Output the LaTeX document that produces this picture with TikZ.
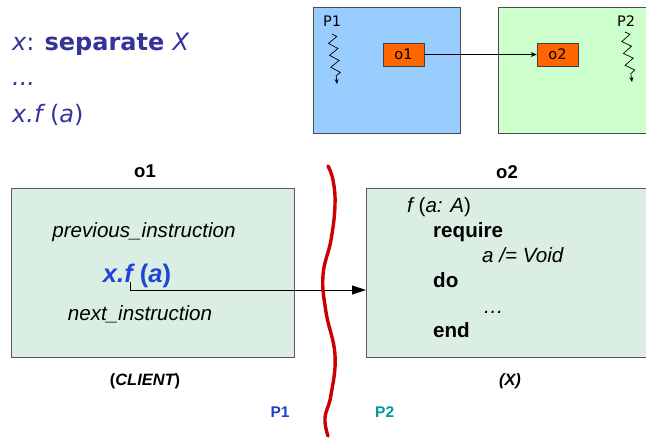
\documentclass[tikz,border=0pt]{standalone}
\usepackage{fontspec}
\setmainfont{Liberation Sans}
\newfontfamily\verd{DejaVu Sans}
\usetikzlibrary{arrows.meta,decorations.pathmorphing}

\definecolor{procblue}{HTML}{99CCFF}
\definecolor{procgreen}{HTML}{CCFFCC}
\definecolor{objorange}{HTML}{FF6600}
\definecolor{objfill}{HTML}{DAEEE4}
\definecolor{codeblue}{HTML}{333399}
\definecolor{callblue}{HTML}{1F44D8}
\definecolor{pone}{HTML}{1F3FCC}
\definecolor{ptwo}{HTML}{009999}
\definecolor{wallred}{HTML}{CC0000}

\tikzset{
  procbox/.style={draw=black!70, line width=0.8pt},
  objbox/.style={draw=black!75, fill=objorange, line width=0.6pt,
    minimum width=41pt, minimum height=23pt, inner sep=0pt,
    font=\verd\fontsize{14.5}{17}\selectfont},
  plabel/.style={inner sep=0pt, anchor=base west, font=\verd\fontsize{14.5}{17}\selectfont},
  thread/.style={decorate, decoration={zigzag, amplitude=4.5pt, segment length=12pt, post length=4pt},
    line width=0.7pt, -{Stealth[length=5pt,width=4pt]}},
  bigbox/.style={draw=black!65, fill=objfill, line width=0.8pt},
  codetxt/.style={inner sep=0pt, anchor=base west, font=\fontsize{20.6}{24}\selectfont},
  titletxt/.style={inner sep=0pt, anchor=base, font=\bfseries\fontsize{18.5}{22}\selectfont},
  toptxt/.style={inner sep=0pt, anchor=base west, text=codeblue, font=\verd\fontsize{24}{28}\selectfont}
}

\begin{document}
\begin{tikzpicture}[x=1pt, y=-1pt]
  \useasboundingbox (0,0) rectangle (646,437);

  % declaration and call, top left
  \node[toptxt] (decl) at (12,50) {\itshape x\upshape: \bfseries separate \mdseries\itshape X};
  \node[toptxt] (dots) at (12,85) {\itshape ...};
  \node[toptxt] (call) at (12,122) {\itshape x.f \upshape(\itshape a\upshape)};

  % processors P1 and P2
  \draw[procbox, fill=procblue] (313,7) rectangle (460,133);
  \draw[procbox, fill=procgreen] (498,7) rectangle (648,133);
  \node[plabel] (pa) at (323,26) {P1};
  \node[plabel] (pb) at (617,26) {P2};
  \coordinate (ta0) at (332,34);
  \coordinate (ta1) at (337,84);
  \coordinate (tb0) at (625,32);
  \coordinate (tb1) at (632,82);
  \draw[thread] (ta0) -- (ta1);
  \draw[thread] (tb0) -- (tb1);

  \node[objbox] (oa) at (403.5,54.5) {o1};
  \node[objbox] (ob) at (557.5,54.5) {o2};
  \draw[line width=0.7pt, -{Stealth[length=6pt,width=5pt]}] (oa) -- (ob);

  % client object o1
  \node[titletxt] (ta) at (145,177) {o1};
  \node[bigbox, minimum width=283pt, minimum height=169pt, anchor=north west, inner sep=0pt] (boxa) at (11,188) {};
  \node[codetxt, anchor=base] (prev) at (144,237) {\itshape previous\_instruction};
  \node[inner sep=0pt, anchor=base, text=callblue, font=\bfseries\itshape\fontsize{25.5}{30}\selectfont] (xf) at (137,282) {x.f \upshape(\itshape a\upshape)};
  \node[codetxt, anchor=base] (next) at (140,320) {\itshape next\_instruction};
  \node[inner sep=0pt, anchor=base, font=\bfseries\fontsize{16.4}{20}\selectfont] (client) at (145,385) {(\itshape CLIENT\upshape)};
  \node[inner sep=0pt, anchor=base, text=pone, font=\bfseries\fontsize{15.5}{18}\selectfont] (pone) at (280,417) {P1};

  % supplier object o2
  \node[titletxt] (tb) at (507,178) {o2};
  \node[bigbox, minimum width=285pt, minimum height=169pt, anchor=north west, inner sep=0pt] (boxb) at (366,188) {};
  \node[codetxt] (sig) at (407,212) {\itshape f \upshape(\itshape a: A\upshape)};
  \node[codetxt] (req) at (433,237) {\bfseries require};
  \node[codetxt] (pre) at (482,262) {\itshape a /= Void};
  \node[codetxt] (kdo) at (433,287) {\bfseries do};
  \node[codetxt] (body) at (483,313) {\itshape\dots};
  \node[codetxt] (kend) at (433,337) {\bfseries end};
  \node[inner sep=0pt, anchor=base, font=\bfseries\itshape\fontsize{16.4}{20}\selectfont] (cls) at (510,385) {(X)};
  \node[inner sep=0pt, anchor=base west, text=ptwo, font=\bfseries\fontsize{15.5}{18}\selectfont] (ptwo) at (375,417) {P2};

  % the call crossing from P1 to P2
  \coordinate (callfrom) at (130,282);
  \coordinate (callto) at (boxb.west |- 0,290);
  \draw[line width=0.8pt, -{Triangle[length=14pt,width=9pt]}] (callfrom) |- (callto);

  % processor boundary
  \draw[wallred, line width=3.4pt, line cap=round] plot[smooth, tension=0.7] coordinates
    {(328,166) (333,180) (335,205) (331,240) (323,275) (326,312) (335,355) (331,395) (325,418) (328,436)};
\end{tikzpicture}
\end{document}
